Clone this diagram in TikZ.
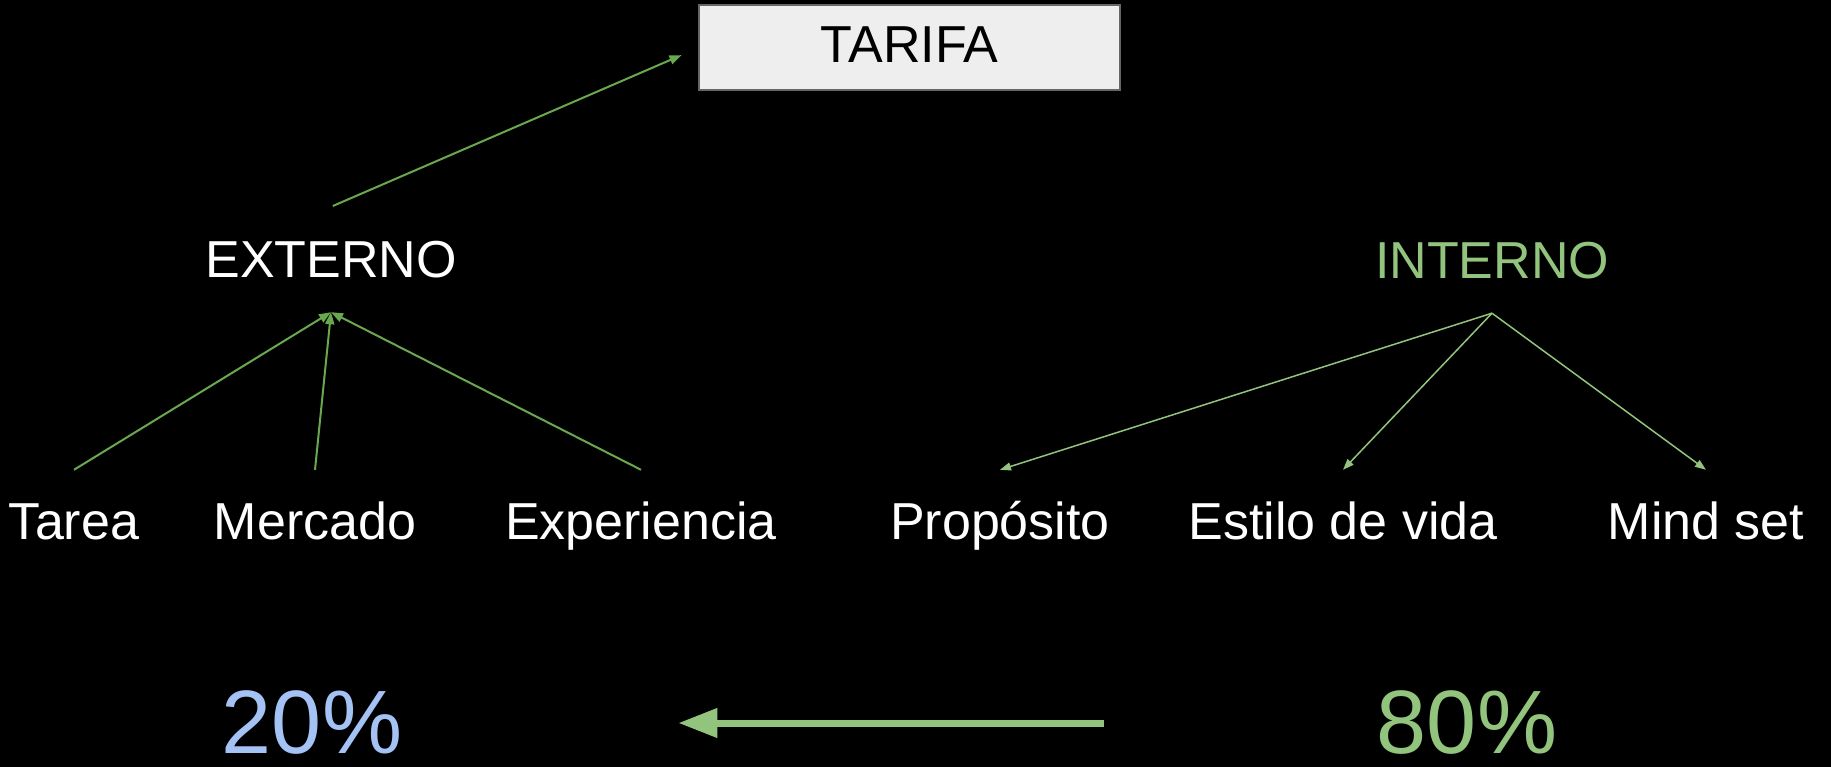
\documentclass[tikz,border=0pt]{standalone}
\usepackage{fontspec}
\setmainfont{Liberation Sans}
\usetikzlibrary{arrows.meta}
\definecolor{leftgreen}{HTML}{6AA84F}
\definecolor{lightgreen}{HTML}{93C47D}
\definecolor{lightblue}{HTML}{A4C2F4}
\definecolor{boxfill}{HTML}{EEEEEE}
\definecolor{boxline}{HTML}{666666}
\begin{document}
\begin{tikzpicture}[x=1pt,y=-1pt,
  lbl/.style={font=\fontsize{52}{60}\selectfont, text=white, anchor=base, inner xsep=0pt, text height=37pt},
  head/.style={lbl, text depth=0pt, inner ysep=34pt},
  leaf/.style={lbl, text depth=11pt, inner ysep=32pt},
  pct/.style={font=\fontsize{90}{100}\selectfont, anchor=base, inner sep=0pt, text height=64pt, text depth=0pt},
  uparrow/.style={draw=leftgreen, line width=2pt, -{Triangle[length=12pt,width=9pt]}},
  downarrow/.style={draw=lightgreen, line width=1.5pt, -{Triangle[length=11pt,width=8pt]}},
  bigarrow/.style={draw=lightgreen, line width=7pt, -{Triangle[length=39pt,width=28pt]}}
]
\fill[black] (0,0) rectangle (1831,767);
\useasboundingbox (0,0) rectangle (1831,767);

\node[draw=boxline, line width=2pt, fill=boxfill, minimum width=421pt, minimum height=85pt,
      font=\fontsize{52}{60}\selectfont, text=black, text height=37pt, text depth=8pt, inner sep=0pt]
      (tarifa) at (909.5,48) {TARIFA};

\node[head] (ext) at (331,278) {EXTERNO};
\node[head, text=lightgreen] (int) at (1492,279) {INTERNO};

\node[leaf] (tarea) at (74,539) {Tarea};
\node[leaf] (merc) at (315,539) {Mercado};
\node[leaf] (exper) at (641,539) {Experiencia};
\node[leaf] (prop) at (1000,539) {Propósito};
\node[leaf] (estilo) at (1343,539) {Estilo de vida};
\node[leaf] (mind) at (1706,539) {Mind set};

\node[pct, text=lightblue] (p20) at (312,753) {20\%};
\node[pct, text=lightgreen] (p80) at (1467,753) {80\%};

\draw[uparrow, shorten <=2pt, shorten >=18pt] (ext.north) -- (tarifa.west);
\draw[uparrow] (tarea.north) -- (ext.south);
\draw[uparrow] (merc.north) -- (ext.south);
\draw[uparrow] (exper.north) -- (ext.south);

\draw[downarrow] (int.south) -- (prop.north);
\draw[downarrow] (int.south) -- (estilo.north);
\draw[downarrow] (int.south) -- (mind.north);

\draw[bigarrow, shorten <=273pt, shorten >=276pt] ([yshift=-2pt]p80.west) -- ([yshift=-2pt]p20.east);
\end{tikzpicture}
\end{document}
